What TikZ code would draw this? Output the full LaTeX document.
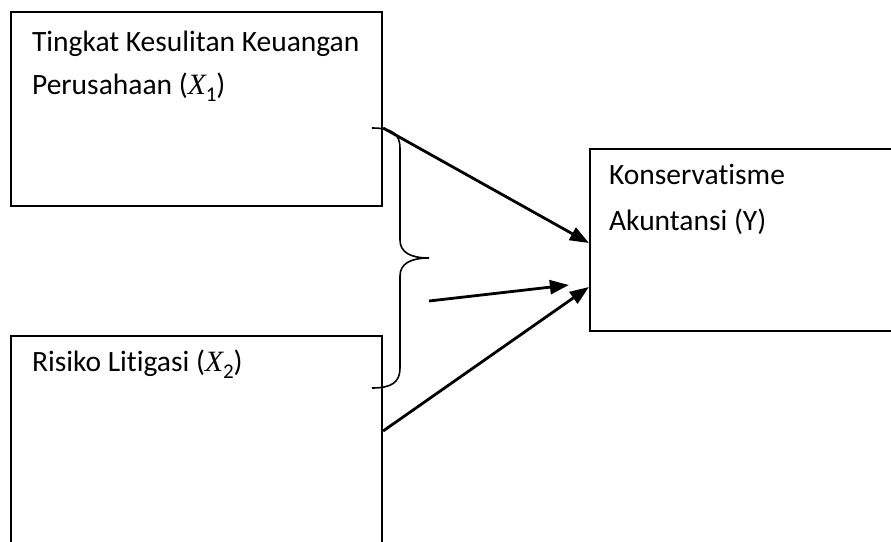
\documentclass[tikz,border=0pt]{standalone}
\usepackage{fontspec}
\setmainfont{Carlito}[Ligatures=NoCommon]
\newfontfamily\mathserif{Liberation Serif}
\usetikzlibrary{arrows.meta}

% italic variable with a lowered subscript, e.g. X_1
\newcommand{\varsub}[2]{{\mathserif\itshape #1}\raisebox{-0.22em}{\fontsize{21pt}{21pt}\selectfont #2}}

\tikzset{
  box/.style={draw=black, line width=2.2pt, rectangle, inner sep=0pt},
  lbl/.style={font=\fontsize{29.5pt}{34pt}\selectfont, inner sep=0pt, anchor=base west},
  arr/.style={line width=2.8pt, -{Triangle[length=19pt,width=14pt]}},
  bracestroke/.style={line width=1.6pt}
}

\begin{document}
\begin{tikzpicture}[x=1pt, y=-1pt]
  \useasboundingbox (0,0) rectangle (891,541);
  \fill[white] (0,0) rectangle (891,541);
  \clip (0,0) rectangle (891,541);

  % boxes
  \node[box, minimum width=371pt, minimum height=194pt] (x1) at (196.5,109) {};
  \node[box, minimum width=371pt, minimum height=250pt] (x2) at (196.5,461) {};
  \node[box, minimum width=320pt, minimum height=182pt] (y) at (750,240) {};

  % labels
  \node[lbl] (x1a) at ([xshift=22pt, yshift=-41pt]x1.north west) {Tingkat Kesulitan Keuangan};
  \node[lbl] (x1b) at ([xshift=22pt, yshift=-84pt]x1.north west) {Perusahaan (\varsub{X}{1})};
  \node[lbl] (x2a) at ([xshift=22pt, yshift=-37pt]x2.north west) {Risiko Litigasi (\varsub{X}{2})};
  \node[lbl] (ya) at ([xshift=20pt, yshift=-37pt]y.north west) {Konservatisme};
  \node[lbl] (yb) at ([xshift=20pt, yshift=-83pt]y.north west) {Akuntansi (Y)};

  % brace grouping both independent variables
  \coordinate (btop) at (372,128);
  \coordinate (btip) at (429,258);
  \coordinate (bbot) at (372,388);
  \draw[bracestroke] (btop) .. controls (392,128) and (400,134) .. (400,148)
    -- (400,240) .. controls (400,252) and (410,258) .. (btip)
    .. controls (410,258) and (400,264) .. (400,276)
    -- (400,368) .. controls (400,382) and (392,388) .. (bbot);

  % arrows
  \coordinate (joint) at (429,301);
  \draw[arr] ([yshift=-19pt]x1.east) -- ([yshift=-3pt]y.west);
  \draw[arr] (joint) -- ([xshift=-20pt, yshift=-45pt]y.west);
  \draw[arr] ([yshift=30pt]x2.east) -- ([yshift=-47pt]y.west);
\end{tikzpicture}
\end{document}
